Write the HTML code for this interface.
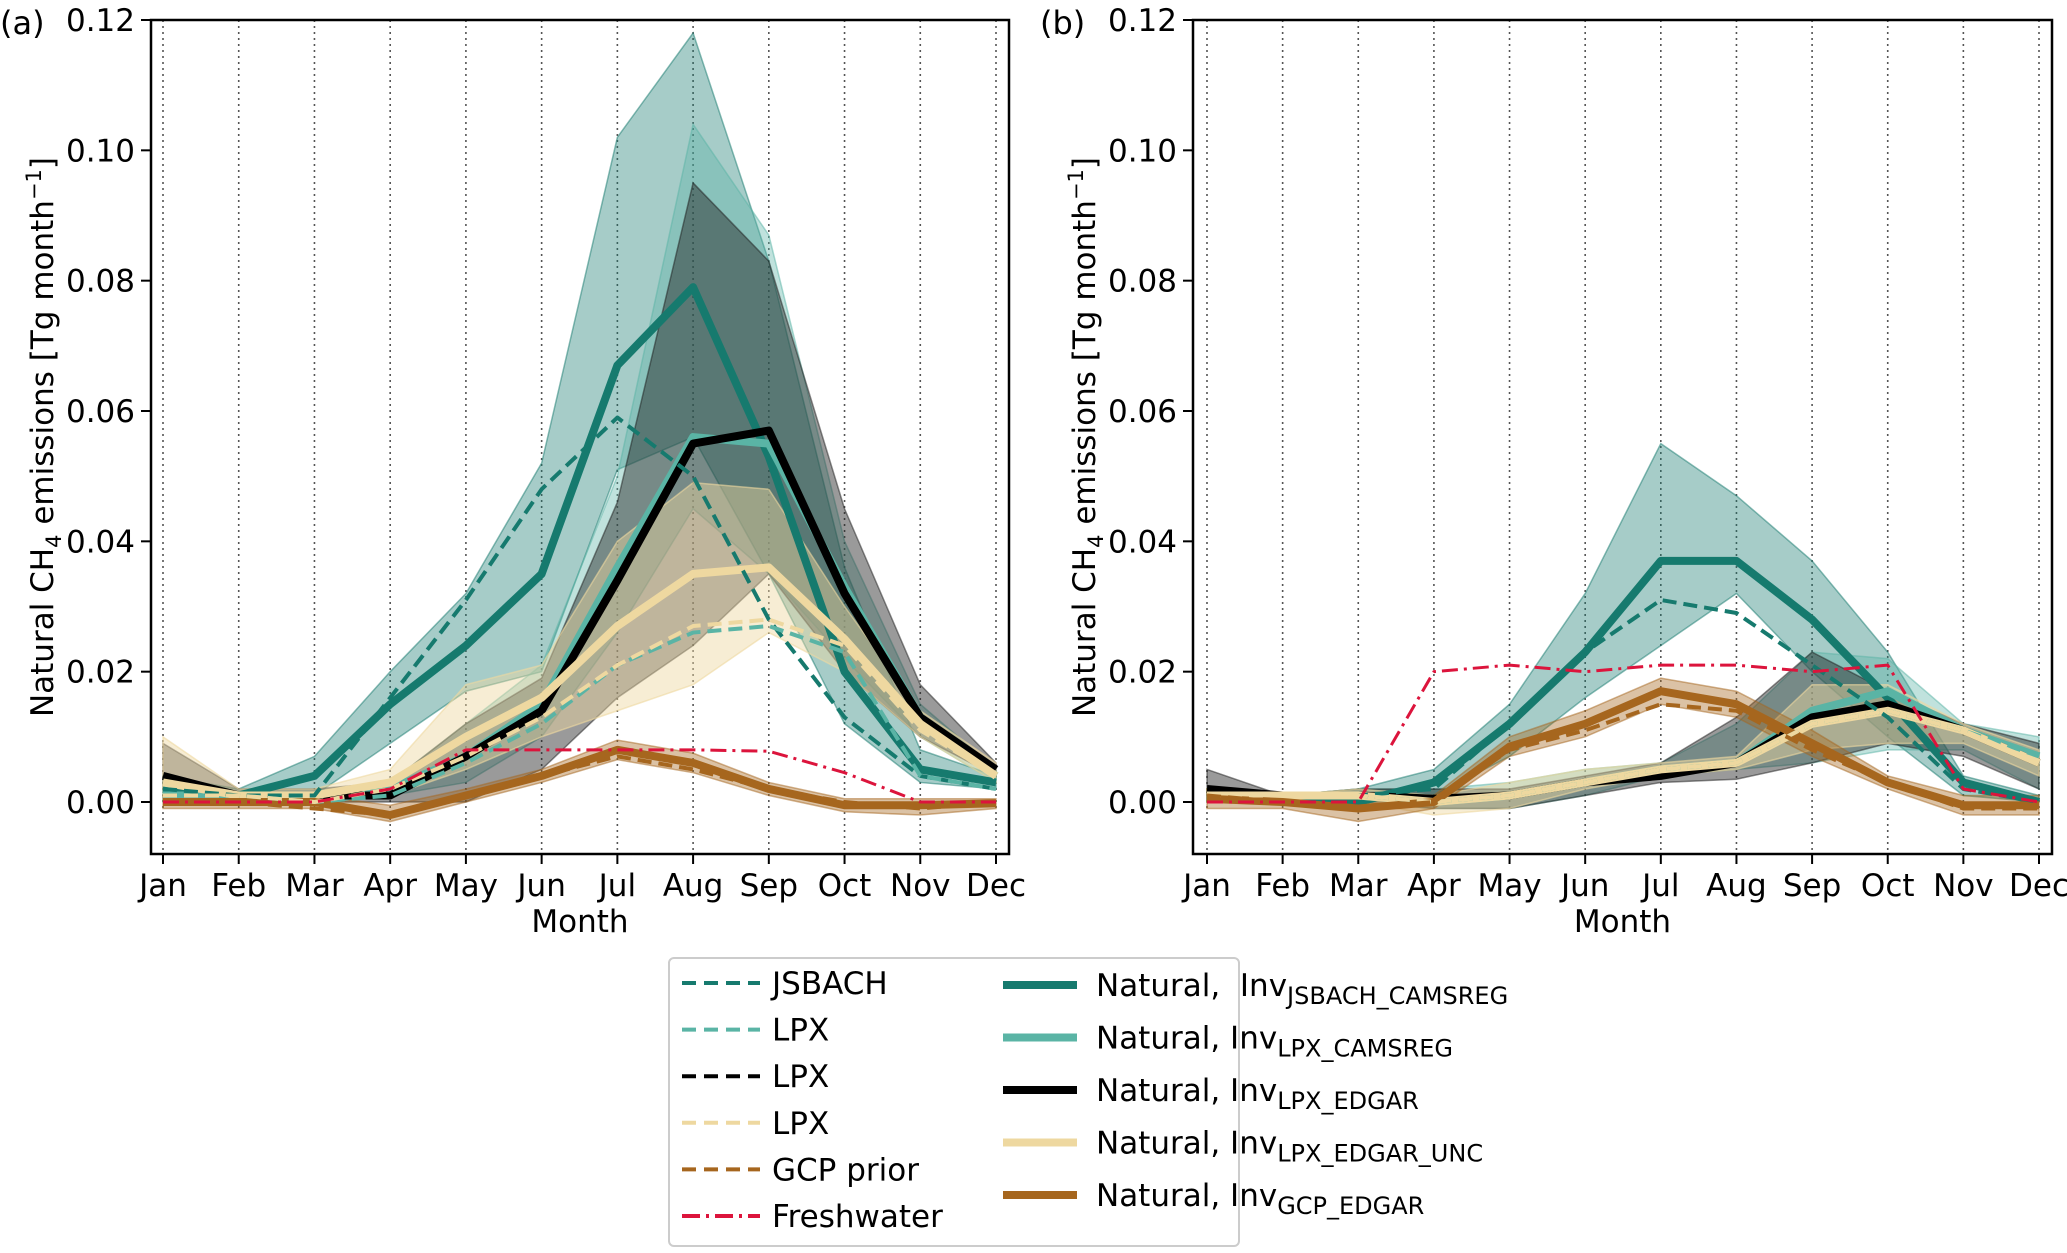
<!DOCTYPE html>
<html><head><meta charset="utf-8">
<style>
body{margin:0;background:#fff;}
svg text{font-family:"DejaVu Sans","Liberation Sans",sans-serif;fill:#000;}
</style></head>
<body>
<svg id="chart" width="2067" height="1248" xmlns="http://www.w3.org/2000/svg"></svg>
<script>
const months=["Jan","Feb","Mar","Apr","May","Jun","Jul","Aug","Sep","Oct","Nov","Dec"];
const yTicks=[0.00,0.02,0.04,0.06,0.08,0.10,0.12];
const yTickLabels=["0.00","0.02","0.04","0.06","0.08","0.10","0.12"];

// Panel (a)
const aJsbachPrior=[0.002,0.001,0.001,0.016,0.031,0.048,0.059,0.050,0.028,0.013,0.004,0.002];
const aJsbachInv=[0.002,0.001,0.004,0.015,0.024,0.035,0.067,0.079,0.053,0.020,0.005,0.003];
const aJsbachHi=[0.004,0.002,0.007,0.020,0.032,0.052,0.102,0.118,0.083,0.036,0.008,0.004];
const aJsbachLo=[0.001,0.001,0.001,0.009,0.017,0.020,0.051,0.056,0.035,0.012,0.003,0.002];
const aLpxCamsPrior=[0.001,0.001,0.000,0.001,0.006,0.012,0.021,0.026,0.027,0.023,0.004,0.002];
const aLpxCamsInv=[0.001,0.001,0.000,0.002,0.007,0.015,0.036,0.056,0.055,0.033,0.013,0.004];
const aLpxCamsHi=[0.002,0.001,0.001,0.003,0.012,0.021,0.050,0.104,0.087,0.040,0.015,0.005];
const aLpxCamsLo=[0.000,0.000,0.000,0.001,0.003,0.010,0.026,0.045,0.035,0.022,0.010,0.003];
const aLpxEdgarPrior=[0.001,0.001,0.000,0.002,0.007,0.013,0.021,0.027,0.028,0.024,0.011,0.004];
const aLpxEdgarInv=[0.004,0.001,0.001,0.001,0.007,0.014,0.034,0.055,0.057,0.032,0.013,0.005];
const aLpxEdgarHi=[0.009,0.002,0.002,0.003,0.012,0.019,0.046,0.095,0.083,0.045,0.018,0.006];
const aLpxEdgarLo=[0.002,0.001,0.000,0.000,0.000,0.005,0.016,0.024,0.035,0.020,0.010,0.004];
const aUncPrior=[0.001,0.001,0.000,0.002,0.007,0.013,0.021,0.027,0.028,0.024,0.011,0.004];
const aUncInv=[0.003,0.001,0.001,0.003,0.010,0.016,0.027,0.035,0.036,0.025,0.012,0.004];
const aUncHi=[0.010,0.002,0.002,0.005,0.018,0.021,0.040,0.049,0.048,0.030,0.014,0.006];
const aUncLo=[0.001,0.000,0.000,0.001,0.005,0.010,0.014,0.018,0.026,0.020,0.010,0.003];
const aGcpPrior=[0.000,0.000,-0.001,-0.002,0.001,0.004,0.007,0.005,0.002,0.000,-0.001,0.000];
const aGcpInv=[0.000,0.000,0.000,-0.002,0.001,0.004,0.008,0.006,0.002,-0.0005,-0.0005,-0.0002];
const aGcpHi=[0.001,0.001,0.001,-0.0005,0.002,0.005,0.0095,0.0075,0.003,0.0005,0.0005,0.0005];
const aGcpLo=[-0.001,-0.001,-0.001,-0.003,0.000,0.003,0.0065,0.0045,0.001,-0.0015,-0.002,-0.001];
const aFresh=[0.000,0.000,0.000,0.002,0.008,0.008,0.008,0.008,0.0078,0.0045,0.000,0.000];

// Panel (b)
const bJsbachPrior=[0.001,0.001,0.001,0.002,0.012,0.023,0.031,0.029,0.021,0.013,0.002,0.000];
const bJsbachInv=[0.001,0.0005,0.000,0.003,0.012,0.023,0.037,0.037,0.028,0.016,0.003,0.000];
const bJsbachHi=[0.002,0.001,0.002,0.005,0.015,0.032,0.055,0.047,0.037,0.023,0.004,0.001];
const bJsbachLo=[0.000,0.000,0.000,0.001,0.007,0.016,0.024,0.032,0.020,0.010,0.001,0.000];
const bLpxCamsPrior=[0.001,0.001,0.001,0.000,0.001,0.003,0.005,0.006,0.012,0.014,0.011,0.007];
const bLpxCamsInv=[0.001,0.001,0.001,0.000,0.001,0.003,0.005,0.006,0.014,0.017,0.011,0.007];
const bLpxCamsHi=[0.002,0.001,0.002,0.002,0.003,0.005,0.006,0.012,0.023,0.022,0.012,0.010];
const bLpxCamsLo=[0.000,0.000,0.000,-0.001,-0.001,0.001,0.004,0.005,0.006,0.008,0.008,0.002];
const bLpxEdgarPrior=[0.001,0.001,0.001,0.000,0.001,0.003,0.005,0.006,0.012,0.014,0.011,0.006];
const bLpxEdgarInv=[0.002,0.001,0.001,0.0005,0.001,0.003,0.004,0.006,0.013,0.015,0.011,0.006];
const bLpxEdgarHi=[0.005,0.001,0.002,0.002,0.002,0.004,0.006,0.013,0.023,0.017,0.012,0.009];
const bLpxEdgarLo=[0.000,0.000,0.000,-0.001,-0.001,0.001,0.003,0.0035,0.006,0.009,0.007,0.002];
const bUncPrior=[0.001,0.001,0.001,0.000,0.001,0.003,0.005,0.006,0.012,0.014,0.011,0.006];
const bUncInv=[0.001,0.001,0.001,0.000,0.001,0.003,0.005,0.006,0.012,0.014,0.011,0.006];
const bUncHi=[0.002,0.001,0.002,0.001,0.003,0.005,0.006,0.007,0.018,0.018,0.012,0.008];
const bUncLo=[0.000,0.000,0.000,-0.002,-0.001,0.002,0.004,0.005,0.008,0.009,0.009,0.004];
const bGcpPrior=[0.001,0.000,-0.001,0.000,0.008,0.011,0.015,0.014,0.008,0.003,-0.001,-0.001];
const bGcpInv=[0.0005,0.000,-0.001,0.000,0.0085,0.012,0.017,0.015,0.009,0.003,-0.0005,-0.0005];
const bGcpHi=[0.002,0.001,0.001,0.001,0.010,0.014,0.019,0.017,0.011,0.004,0.001,0.001];
const bGcpLo=[-0.001,-0.001,-0.003,-0.001,0.007,0.010,0.015,0.013,0.007,0.002,-0.002,-0.002];
const bFresh=[0.000,0.000,0.000,0.020,0.021,0.020,0.021,0.021,0.020,0.021,0.002,0.000];

const NS="http://www.w3.org/2000/svg";
const svg=document.getElementById('chart');
function el(tag,attrs,parent){const e=document.createElementNS(NS,tag);for(const k in attrs)e.setAttribute(k,attrs[k]);(parent||svg).appendChild(e);return e;}

const C={jsb:"#167a6e",lpxc:"#5ab4a5",blk:"#000000",unc:"#eed8a0",gcp:"#a6661e",fresh:"#dc143c"};

function panel(p){
  const g=el('g',{});
  
  
  const x=i=>p.x0+i*(p.x11-p.x0)/11;
  const y=v=>p.y0-(v/0.12)*(p.y0-p.yTop);
  months.forEach((m,i)=>{
    const l=el('line',{x1:x(i),x2:x(i),y1:p.top,y2:p.bottom,stroke:"#555","stroke-width":1.6,"stroke-dasharray":"2 4"},g);
    
    
  });
  function band(hi,lo,fill,stroke,name){
    let d="M"+hi.map((v,i)=>x(i)+","+y(v)).join(" L");
    for(let i=lo.length-1;i>=0;i--)d+=" L"+x(i)+","+y(lo[i]);
    const e=el('path',{d:d+"Z",fill:fill,stroke:stroke,"stroke-width":1.5},g);
    
    
  }
  function line(vals,color,w,dash,name){
    const e=el('polyline',{points:vals.map((v,i)=>x(i)+","+y(v)).join(" "),fill:"none",stroke:color,"stroke-width":w,"stroke-linejoin":"round"},g);
    if(dash)e.setAttribute('stroke-dasharray',dash);
    
    
  }
  const s=p.s;
  band(s.jsbHi,s.jsbLo,"rgba(22,122,110,0.38)","rgba(22,122,110,0.5)","band-jsbach-camsreg");
  band(s.lpxcHi,s.lpxcLo,"rgba(90,180,165,0.38)","rgba(90,180,165,0.5)","band-lpx-camsreg");
  band(s.blkHi,s.blkLo,"rgba(30,30,30,0.45)","rgba(30,30,30,0.5)","band-lpx-edgar");
  band(s.uncHi,s.uncLo,"rgba(238,216,160,0.45)","rgba(238,216,160,0.6)","band-lpx-edgar-unc");
  band(s.gcpHi,s.gcpLo,"rgba(166,102,30,0.4)","rgba(166,102,30,0.5)","band-gcp-edgar");
  line(s.jsbInv,C.jsb,8,null,"line-inv-jsbach-camsreg");
  line(s.lpxcInv,C.lpxc,8,null,"line-inv-lpx-camsreg");
  line(s.blkInv,C.blk,8,null,"line-inv-lpx-edgar");
  line(s.uncInv,C.unc,8,null,"line-inv-lpx-edgar-unc");
  line(s.gcpInv,C.gcp,8,null,"line-inv-gcp-edgar");
  line(s.jsbP,C.jsb,4,"14 7","line-jsbach-prior");
  line(s.lpxcP,C.lpxc,4,"14 7","line-lpx-prior-camsreg");
  line(s.uncP,C.unc,4,"14 7","line-lpx-prior-unc");
  line(s.gcpP,C.gcp,4,"14 7","line-gcp-prior");
  line(s.fresh,C.fresh,3,"16 6 3 6","line-freshwater");
  const f=el('rect',{x:p.left,y:p.top,width:p.right-p.left,height:p.bottom-p.top,fill:"none",stroke:"#000","stroke-width":2.5},g);
  
  
  months.forEach((m,i)=>{
    el('line',{x1:x(i),x2:x(i),y1:p.bottom,y2:p.bottom+10,stroke:"#000","stroke-width":2},g);
    const t=el('text',{x:x(i),y:p.bottom+42,"font-size":31,"text-anchor":"middle"},g);
    t.textContent=m;
    
    
  });
  yTicks.forEach((v,i)=>{
    el('line',{x1:p.left-10,x2:p.left,y1:y(v),y2:y(v),stroke:"#000","stroke-width":2},g);
    const t=el('text',{x:p.left-16,y:y(v)+11,"font-size":31,"text-anchor":"end"},g);
    t.textContent=yTickLabels[i];
    
    
  });
  const xt=el('text',{x:(p.left+p.right)/2,y:932,"font-size":31,"text-anchor":"middle"},g);
  xt.textContent="Month";
  
  
  const yt=el('text',{transform:"translate("+(p.left-98)+","+((p.top+p.bottom)/2)+") rotate(-90)","font-size":31,"text-anchor":"middle"},g);
  yt.innerHTML='Natural CH<tspan font-size="21" dy="8">4</tspan><tspan dy="-8"> emissions [Tg month</tspan><tspan font-size="21" dy="-12">−1</tspan><tspan dy="12">]</tspan>';
  
  
  const pl=el('text',{x:p.labelX,y:34,"font-size":32},g);
  pl.textContent="("+p.id+")";
  
  
}

panel({id:"a",left:151,right:1009,top:20,bottom:854,x0:163,x11:996,y0:802,yTop:20,labelX:0,
 s:{jsbP:aJsbachPrior,jsbInv:aJsbachInv,jsbHi:aJsbachHi,jsbLo:aJsbachLo,lpxcP:aLpxCamsPrior,lpxcInv:aLpxCamsInv,lpxcHi:aLpxCamsHi,lpxcLo:aLpxCamsLo,
 blkP:aLpxEdgarPrior,blkInv:aLpxEdgarInv,blkHi:aLpxEdgarHi,blkLo:aLpxEdgarLo,uncP:aUncPrior,uncInv:aUncInv,uncHi:aUncHi,uncLo:aUncLo,
 gcpP:aGcpPrior,gcpInv:aGcpInv,gcpHi:aGcpHi,gcpLo:aGcpLo,fresh:aFresh}});
panel({id:"b",left:1193,right:2052,top:20,bottom:854,x0:1207,x11:2039,y0:802,yTop:20,labelX:1040,
 s:{jsbP:bJsbachPrior,jsbInv:bJsbachInv,jsbHi:bJsbachHi,jsbLo:bJsbachLo,lpxcP:bLpxCamsPrior,lpxcInv:bLpxCamsInv,lpxcHi:bLpxCamsHi,lpxcLo:bLpxCamsLo,
 blkP:bLpxEdgarPrior,blkInv:bLpxEdgarInv,blkHi:bLpxEdgarHi,blkLo:bLpxEdgarLo,uncP:bUncPrior,uncInv:bUncInv,uncHi:bUncHi,uncLo:bUncLo,
 gcpP:bGcpPrior,gcpInv:bGcpInv,gcpHi:bGcpHi,gcpLo:bGcpLo,fresh:bFresh}});

// legend
const lg=el('g',{});


el('rect',{x:669,y:958,width:570,height:288,rx:5,fill:"#fff",stroke:"#ccc","stroke-width":2},lg);
const leftItems=[["JSBACH",C.jsb,"14 8"],["LPX",C.lpxc,"14 8"],["LPX",C.blk,"14 8"],["LPX",C.unc,"14 8"],["GCP prior",C.gcp,"14 8"],["Freshwater",C.fresh,"18 6 3 6"]];
leftItems.forEach((it,i)=>{
  const yy=983+i*46.6;
  const h=el('line',{x1:682,x2:760,y1:yy,y2:yy,stroke:it[1],"stroke-width":4,"stroke-dasharray":it[2]},lg);
  
  
  const t=el('text',{x:772,y:yy+11,"font-size":31},lg);
  t.textContent=it[0];
  
  
});
const rightItems=[["Natural,  Inv","JSBACH_CAMSREG",C.jsb],["Natural, Inv","LPX_CAMSREG",C.lpxc],["Natural, Inv","LPX_EDGAR",C.blk],["Natural, Inv","LPX_EDGAR_UNC",C.unc],["Natural, Inv","GCP_EDGAR",C.gcp]];
rightItems.forEach((it,i)=>{
  const yy=985+i*52.5;
  const h=el('line',{x1:1003,x2:1077,y1:yy,y2:yy,stroke:it[2],"stroke-width":8},lg);
  
  
  const t=el('text',{x:1096,y:yy+11,"font-size":31},lg);
  t.innerHTML=it[0].replace(/ /g,'&#160;')+'<tspan font-size="24" dy="8">'+it[1]+'</tspan>';
  
  
});
</script>
</body></html>
